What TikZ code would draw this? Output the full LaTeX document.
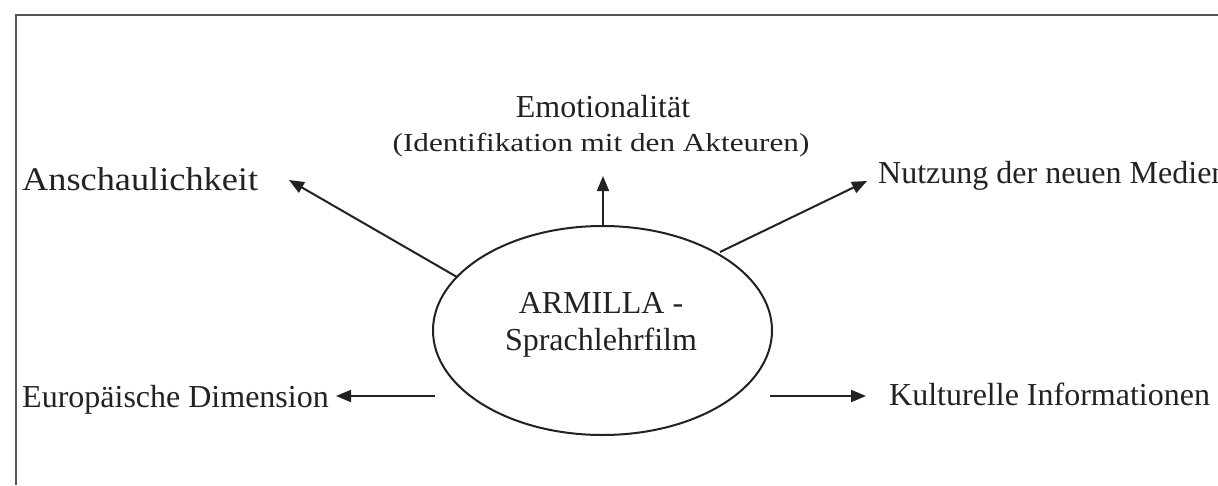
\documentclass[tikz,border=0pt]{standalone}
\usepackage{fontspec}
\usepackage{graphicx}
\setmainfont{Liberation Serif}
\usetikzlibrary{arrows.meta,shapes.geometric}
\definecolor{ink}{HTML}{222222}
\definecolor{framec}{HTML}{555555}
\tikzset{
  lbl/.style={inner sep=0pt, anchor=base west, text=ink, font=\fontsize{32}{37}\selectfont},
  clbl/.style={inner sep=0pt, anchor=base, text=ink, font=\fontsize{32}{37}\selectfont},
  conn/.style={draw=ink, line width=2pt, -{Triangle[length=15pt,width=12pt]}},
}
\begin{document}
\begin{tikzpicture}[x=1pt,y=-1pt]
\clip (0,0) rectangle (1218,485);
\fill[white] (0,0) rectangle (1218,485);
% frame
\draw[framec, line width=2.5pt] (16,485) -- (16,15) -- (1218,15);
% central ellipse
\node[ellipse, draw=ink, line width=2pt, minimum width=339pt, minimum height=209pt, inner sep=0pt] (ell) at (602.5,330.5) {};
\node[clbl] (t1) at (601,313) {ARMILLA -};
\node[clbl] (t2) at (601,350) {Sprachlehrfilm};
% labels
\node[lbl, font=\fontsize{33}{37}\selectfont] (ansch) at (22,190) {\scalebox{1.1}[1]{Anschaulichkeit}};
\node[clbl] (emo) at (603,117) {Emotionalität};
\node[clbl, font=\fontsize{26}{30}\selectfont] (emo2) at (601,151) {\scalebox{1.2}[1]{(Identifikation mit den Akteuren)}};
\node[lbl] (nutz) at (878,183) {Nutzung der neuen Medien};
\node[lbl] (euro) at (22,407) {Europäische Dimension};
\node[lbl] (kult) at (889,405) {Kulturelle Informationen};
% arrow coordinates
\coordinate (aT) at (457,277);
\coordinate (aH) at (289,180);
\coordinate (eT) at (603,226);
\coordinate (eH) at (603,176);
\coordinate (nT) at (720,252);
\coordinate (nH) at (867,181);
\coordinate (lT) at (435,396);
\coordinate (lH) at (336,396);
\coordinate (rT) at (770,396);
\coordinate (rH) at (866,396);
\draw[conn] (aT) -- (aH);
\draw[conn] (eT) -- (eH);
\draw[conn] (nT) -- (nH);
\draw[conn] (lT) -- (lH);
\draw[conn] (rT) -- (rH);
\end{tikzpicture}
\end{document}
